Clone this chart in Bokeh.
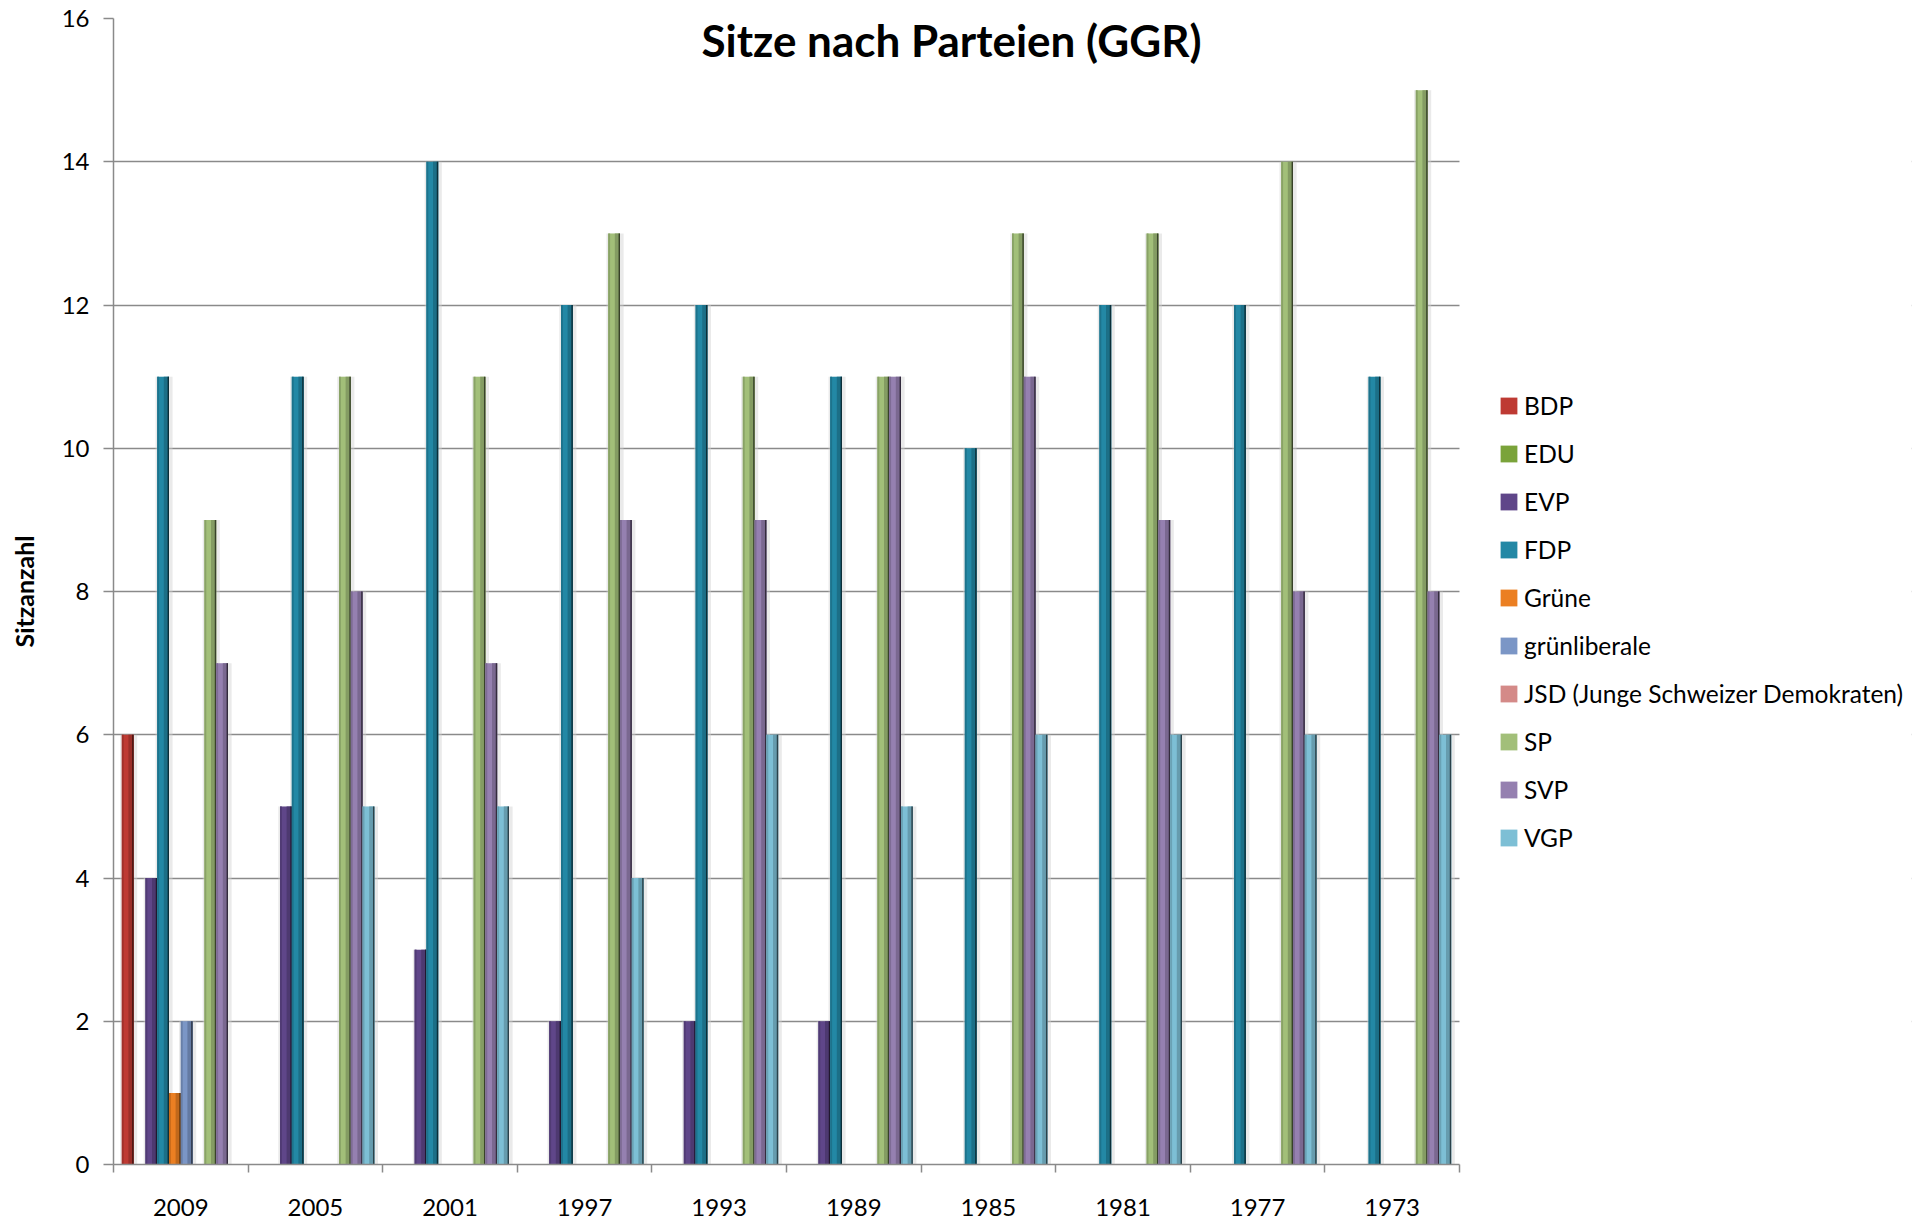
from bokeh.plotting import figure
from bokeh.models import (ColumnDataSource, Range1d, FixedTicker, BoxAnnotation,
                          Legend, LegendItem, Label, CustomJSTickFormatter)
from bokeh.transform import dodge
from bokeh.embed import file_html
from bokeh.resources import INLINE

# ---------------- data ----------------
years = ["2009", "2005", "2001", "1997", "1993", "1989", "1985", "1981", "1977", "1973"]
parties = ["BDP", "EDU", "EVP", "FDP", "Grüne", "grünliberale",
           "JSD (Junge Schweizer Demokraten)", "SP", "SVP", "VGP"]
bdp = [6, 0, 0, 0, 0, 0, 0, 0, 0, 0]
edu = [0, 0, 0, 0, 0, 0, 0, 0, 0, 0]
evp = [4, 5, 3, 2, 2, 2, 0, 0, 0, 0]
fdp = [11, 11, 14, 12, 12, 11, 10, 12, 12, 11]
gruene = [1, 0, 0, 0, 0, 0, 0, 0, 0, 0]
glp = [2, 0, 0, 0, 0, 0, 0, 0, 0, 0]
jsd = [0, 0, 0, 0, 0, 0, 0, 0, 0, 0]
sp = [9, 11, 11, 13, 11, 11, 13, 13, 14, 15]
svp = [7, 8, 7, 9, 9, 11, 11, 9, 8, 8]
vgp = [0, 5, 5, 4, 6, 5, 6, 6, 6, 6]
y_ticks = [0, 2, 4, 6, 8, 10, 12, 14, 16]

keys = ["bdp", "edu", "evp", "fdp", "gruene", "glp", "jsd", "sp", "svp", "vgp"]
colors = ["#BE3A33", "#7AA33A", "#5F4689", "#2388A5", "#EB7F22", "#7B96C6",
          "#D48A88", "#A2BF79", "#9580B0", "#7DBFD5"]

# category index position (group centre) for each year
pos = [i + 0.5 for i in range(len(years))]
src = ColumnDataSource(dict(year=years, pos=pos, bdp=bdp, edu=edu, evp=evp, fdp=fdp,
                            gruene=gruene, glp=glp, jsd=jsd, sp=sp, svp=svp, vgp=vgp))


def shade(h, f):
    h = h.lstrip("#")
    r, g, b = (int(h[i:i + 2], 16) for i in (0, 2, 4))
    return "#%02x%02x%02x" % (int(r * f), int(g * f), int(b * f))


FONT = "Lato"
GREY = "#8a8a8a"
NG = len(years)
# the frame also hosts the legend area to the right of the groups
x_end = NG * 1798 / 1346

p = figure(width=1915, height=1222, x_range=Range1d(0, x_end),
           y_range=Range1d(0, 16),
           toolbar_location=None, output_backend="svg",
           min_border_left=113, min_border_right=4, min_border_top=18, min_border_bottom=58)
p.outline_line_color = None
p.background_fill_color = "white"

# y axis / grid
p.yaxis.ticker = FixedTicker(ticks=y_ticks)
p.yaxis.axis_line_color = GREY
p.yaxis.axis_line_width = 1.5
p.yaxis.major_tick_line_color = GREY
p.yaxis.major_tick_line_width = 1.5
p.yaxis.major_tick_out = 10
p.yaxis.major_tick_in = 0
p.yaxis.minor_tick_line_color = None
p.yaxis.major_label_text_font = FONT
p.yaxis.major_label_text_font_size = "24px"
p.yaxis.major_label_text_color = "black"
p.yaxis.major_label_standoff = 14
p.yaxis.axis_label = "Sitzanzahl"
p.yaxis.axis_label_text_font = FONT
p.yaxis.axis_label_text_font_style = "bold"
p.yaxis.axis_label_text_font_size = "25px"
p.yaxis.axis_label_text_color = "black"
p.yaxis.axis_label_standoff = 20
p.ygrid.ticker = FixedTicker(ticks=y_ticks)
p.ygrid.grid_line_color = GREY
p.ygrid.grid_line_width = 1.5
p.xgrid.visible = False

# hide grid lines to the right of the groups (legend area)
p.add_layout(BoxAnnotation(left=NG, fill_color="white", fill_alpha=1.0,
                           line_color=None, level="underlay"))

# x axis: labels at group centres, ticks between groups
xaxis = p.xaxis[0]
xaxis.bounds = (0, NG)
xaxis.ticker = FixedTicker(ticks=pos, minor_ticks=list(range(NG + 1)))
xaxis.formatter = CustomJSTickFormatter(args=dict(years=years),
                                        code="return years[Math.floor(tick)] || ''")
xaxis.axis_line_color = GREY
xaxis.axis_line_width = 1.5
xaxis.major_tick_out = 0
xaxis.major_tick_in = 0
xaxis.minor_tick_out = 8
xaxis.minor_tick_in = 0
xaxis.minor_tick_line_color = GREY
xaxis.minor_tick_line_width = 1.5
xaxis.major_label_text_font = FONT
xaxis.major_label_text_font_size = "24px"
xaxis.major_label_text_color = "black"
xaxis.major_label_standoff = 26

# bars
n = len(keys)
pad = 0.0617
bw = (1 - 2 * pad) / n
offs = [-0.5 + pad + bw * (i + 0.5) for i in range(n)]

for k, off in zip(keys, offs):
    p.vbar(x=dodge("pos", off + bw * 0.08), top=k, width=bw * 1.45,
           source=src, fill_color="#d0d0d0", fill_alpha=0.45, line_color=None)

items = []
for name, k, c, off in zip(parties, keys, colors, offs):
    main = p.vbar(x=dodge("pos", off), top=k, width=bw, source=src,
                  fill_color=c, line_color=None)
    p.vbar(x=dodge("pos", off - bw * 0.42), top=k, width=bw * 0.16,
           source=src, fill_color=shade(c, 0.85), line_color=None)
    p.vbar(x=dodge("pos", off + bw * 0.28), top=k, width=bw * 0.44,
           source=src, fill_color=shade(c, 0.82), line_color=None)
    p.vbar(x=dodge("pos", off + bw * 0.44), top=k, width=bw * 0.12,
           source=src, fill_color=shade(c, 0.35), line_color=None)
    items.append(LegendItem(label=name, renderers=[main]))

legend = Legend(items=items, location=(1385, 312), orientation="vertical",
                label_text_font=FONT, label_text_font_size="24.5px", label_text_color="black",
                glyph_width=21, glyph_height=21, spacing=19, padding=0, margin=0,
                label_standoff=5, border_line_color=None, background_fill_alpha=0)
p.add_layout(legend, "center")

title = Label(x=6.226, y=15.70, text="Sitze nach Parteien (GGR)", text_align="center",
              text_baseline="alphabetic", text_font=FONT, text_font_style="bold",
              text_font_size="44px", text_color="black")
p.add_layout(title)

open("out.html", "w").write(file_html(p, INLINE))
